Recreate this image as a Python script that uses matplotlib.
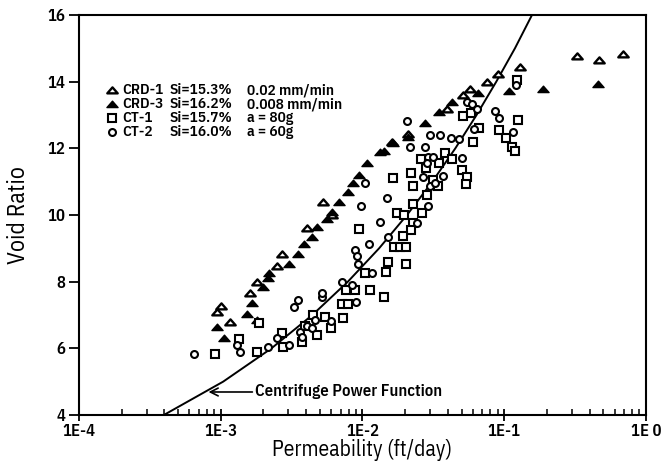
import numpy as np
import matplotlib
matplotlib.use('Agg')
import matplotlib.pyplot as plt
from matplotlib.path import Path
from matplotlib.ticker import FixedLocator, LogLocator, NullFormatter

plt.rcParams['font.family'] = ['IBM Plex Sans Condensed', 'DejaVu Sans']

# ---------------- data ----------------
crd1_k = [9.4e-4, 1.0e-3, 1.16e-3, 1.61e-3, 1.80e-3, 2.49e-3, 2.71e-3, 4.06e-3, 5.26e-3,
          6.09e-3, 1.61e-2, 2.09e-2, 3.95e-2, 5.12e-2, 5.73e-2, 7.55e-2, 9.03e-2, 0.129,
          0.326, 0.466, 0.689]
crd1_e = [7.09, 7.27, 6.79, 7.66, 8.0, 8.47, 8.83, 9.61, 10.39,
          10.0, 12.19, 12.43, 13.18, 13.6, 13.78, 13.99, 14.23, 14.44,
          14.77, 14.65, 14.83]

crd3_k = [9.4e-4, 1.05e-3, 1.53e-3, 1.80e-3, 1.66e-3, 1.99e-3, 2.15e-3, 2.19e-3, 3.03e-3,
          3.51e-3, 3.87e-3, 4.41e-3, 4.78e-3, 5.6e-3, 6.09e-3, 6.83e-3, 7.9e-3, 8.57e-3,
          9.45e-3, 1.08e-2, 1.33e-2, 1.42e-2, 1.64e-2, 2.09e-2, 2.76e-2, 3.47e-2, 4.28e-2,
          6.53e-2, 0.108, 0.187, 0.458]
crd3_e = [6.64, 6.31, 7.03, 6.85, 7.36, 7.84, 8.11, 8.26, 8.53,
          8.83, 9.13, 9.34, 9.64, 9.88, 10.09, 10.39, 10.69, 10.96,
          11.2, 11.56, 11.89, 11.92, 12.16, 12.34, 12.76, 13.09, 13.39,
          13.66, 13.72, 13.78, 13.93]

ct1_k = [9.1e-4, 1.35e-3, 1.80e-3, 1.86e-3, 2.70e-3, 2.75e-3, 3.74e-3, 3.93e-3, 4.48e-3,
         4.78e-3, 5.43e-3, 6.0e-3, 7.28e-3, 7.16e-3, 7.9e-3, 7.65e-3, 8.86e-3, 1.13e-2,
         1.42e-2, 1.04e-2, 1.47e-2, 1.51e-2, 2.03e-2, 1.67e-2, 1.84e-2, 2.03e-2, 9.45e-3,
         1.75e-2, 1.64e-2, 5.12e-2, 5.82e-2, 0.125, 0.123, 6.64e-2, 9.18e-2, 0.103,
         6.03e-2, 3.82e-2, 4.28e-2, 2.59e-2, 3.47e-2, 2.81e-2, 2.20e-2, 2.27e-2, 5.04e-2,
         5.46e-2, 5.37e-2, 0.114, 0.119, 3.14e-2, 3.41e-2, 2.85e-2, 2.27e-2, 2.63e-2,
         1.96e-2, 2.27e-2, 2.20e-2, 1.93e-2]
ct1_e = [5.83, 6.28, 5.89, 6.76, 6.46, 6.04, 6.19, 6.67, 7.0,
         6.4, 6.94, 6.61, 6.91, 7.33, 7.33, 7.75, 7.75, 7.75,
         7.54, 8.26, 8.29, 8.59, 8.53, 9.04, 9.04, 9.04, 9.58,
         10.06, 11.11, 12.97, 13.06, 12.85, 14.05, 12.61, 12.55, 12.31,
         12.19, 11.86, 11.68, 11.68, 11.56, 11.41, 11.26, 10.87, 11.35,
         11.14, 10.93, 12.04, 11.92, 11.05, 10.87, 10.6, 10.33, 10.06,
         10.0, 9.76, 9.55, 9.37]

ct2_k = [6.47e-4, 1.37e-3, 1.30e-3, 2.15e-3, 2.49e-3, 3.03e-3, 3.29e-3, 3.51e-3, 3.62e-3,
         3.74e-3, 4.06e-3, 4.41e-3, 4.62e-3, 5.18e-3, 5.18e-3, 6.0e-3, 7.16e-3, 8.43e-3,
         9.0e-3, 8.86e-3, 9.15e-3, 9.3e-3, 1.11e-2, 1.17e-2, 1.33e-2, 1.51e-2, 1.49e-2,
         9.75e-3, 1.04e-2, 2.06e-2, 2.16e-2, 2.76e-2, 2.99e-2, 3.52e-2, 4.21e-2, 4.8e-2,
         5.46e-2, 5.92e-2, 6.42e-2, 6.12e-2, 5.04e-2, 8.61e-2, 9.18e-2, 0.115, 0.121,
         2.90e-2, 3.14e-2, 2.85e-2, 3.70e-2, 2.68e-2, 2.99e-2, 3.24e-2, 2.90e-2, 2.42e-2]
ct2_e = [5.83, 5.89, 6.1, 6.04, 6.31, 6.1, 7.24, 7.45, 6.49,
         6.34, 6.67, 6.61, 6.85, 7.54, 7.66, 6.82, 7.99, 7.9,
         7.39, 8.95, 8.77, 8.53, 9.13, 8.26, 9.79, 9.34, 10.51,
         10.27, 10.96, 12.82, 12.04, 12.04, 12.4, 12.4, 12.31, 12.28,
         13.39, 13.33, 13.18, 12.58, 11.71, 13.12, 12.91, 12.49, 13.9,
         11.74, 11.74, 11.56, 11.17, 11.14, 10.87, 10.96, 10.27, 9.76]

# centrifuge power function
curve_k = [3.97e-4, 1.04e-3, 2.28e-3, 4.43e-3, 7.89e-3, 1.31e-2, 2.06e-2, 3.11e-2,
           4.52e-2, 6.38e-2, 8.79e-2, 0.119, 0.157]
curve_e = [4, 5, 6, 7, 8, 9, 10, 11, 12, 13, 14, 15, 16]

x_ticks = [1e-4, 1e-3, 1e-2, 1e-1, 1e0]
x_tick_labels = ['1E-4', '1E-3', '1E-2', '1E-1', '1E 0']
y_ticks = [4, 6, 8, 10, 12, 14, 16]

legend_names = ['CRD-1', 'CRD-3', 'CT-1', 'CT-2']
legend_si = ['Si=15.3%', 'Si=16.2%', 'Si=15.7%', 'Si=16.0%']
legend_cond = ['0.02 mm/min', '0.008 mm/min', 'a = 80g', 'a = 60g']

# ---------------- styling ----------------
tri = Path([(-1, -0.55), (1, -0.55), (0, 0.6), (-1, -0.55)],
           [Path.MOVETO, Path.LINETO, Path.LINETO, Path.CLOSEPOLY])

styles = [
    dict(marker=tri, ms=7.5, mfc='white', mec='black', mew=1.7),
    dict(marker=tri, ms=8, mfc='black', mec='black', mew=1.0),
    dict(marker='s', ms=6.3, mfc='white', mec='black', mew=1.5),
    dict(marker='o', ms=5, mfc='white', mec='black', mew=1.5),
]

TW = 600  # text weight

fig = plt.figure(figsize=(6.62, 4.61), dpi=100)
ax = fig.add_axes([0.1193, 0.0998, 0.8565, 0.8677])
ax.set_xscale('log')
ax.set_xlim(1e-4, 1)
ax.set_ylim(4, 16)

ax.plot(curve_k, curve_e, color='black', lw=1.4, zorder=2)

series = [(crd1_k, crd1_e), (crd3_k, crd3_e), (ct1_k, ct1_e), (ct2_k, ct2_e)]
for (k, e), st in zip(series, styles):
    ax.plot(k, e, linestyle='none', zorder=3, clip_on=False, **st)

# legend drawn in axes coordinates
row_y = [0.812, 0.777, 0.742, 0.707]
for i in range(4):
    ax.plot([0.058], [row_y[i]], transform=ax.transAxes, linestyle='none',
            clip_on=False, **styles[i])
    ax.text(0.076, row_y[i], legend_names[i], transform=ax.transAxes,
            fontsize=11, fontweight=TW, va='center', ha='left')
    ax.text(0.16, row_y[i], legend_si[i], transform=ax.transAxes,
            fontsize=11, fontweight=TW, va='center', ha='left')
    ax.text(0.297, row_y[i], legend_cond[i], transform=ax.transAxes,
            fontsize=11, fontweight=TW, va='center', ha='left')

# annotation arrow
ax.annotate('Centrifuge Power Function', xy=(8.2e-4, 4.69), xytext=(1.75e-3, 4.69),
            fontsize=12, fontweight=TW, va='center', ha='left',
            arrowprops=dict(arrowstyle='->', color='black', lw=1.2,
                            shrinkA=0, shrinkB=0, mutation_scale=14))

# ticks
ax.xaxis.set_major_locator(FixedLocator(x_ticks))
ax.set_xticklabels(x_tick_labels)
ax.xaxis.set_minor_locator(LogLocator(base=10, subs=np.arange(2, 10)))
ax.xaxis.set_minor_formatter(NullFormatter())
ax.set_yticks(y_ticks)
ax.tick_params(axis='x', which='major', direction='inout', length=9, width=1.3,
               labelsize=12, pad=2)
ax.tick_params(axis='x', which='minor', direction='in', length=4, width=1.1)
ax.tick_params(axis='y', which='major', direction='out', length=7, width=1.3,
               labelsize=12, pad=3)
for lab in ax.get_xticklabels() + ax.get_yticklabels():
    lab.set_fontweight(TW)
for sp in ax.spines.values():
    sp.set_linewidth(1.5)

ax.set_xlabel('Permeability (ft/day)', fontsize=15.5, labelpad=0)
ax.set_ylabel('Void Ratio', fontsize=17, labelpad=12)

fig.savefig('out.png', dpi=100)
